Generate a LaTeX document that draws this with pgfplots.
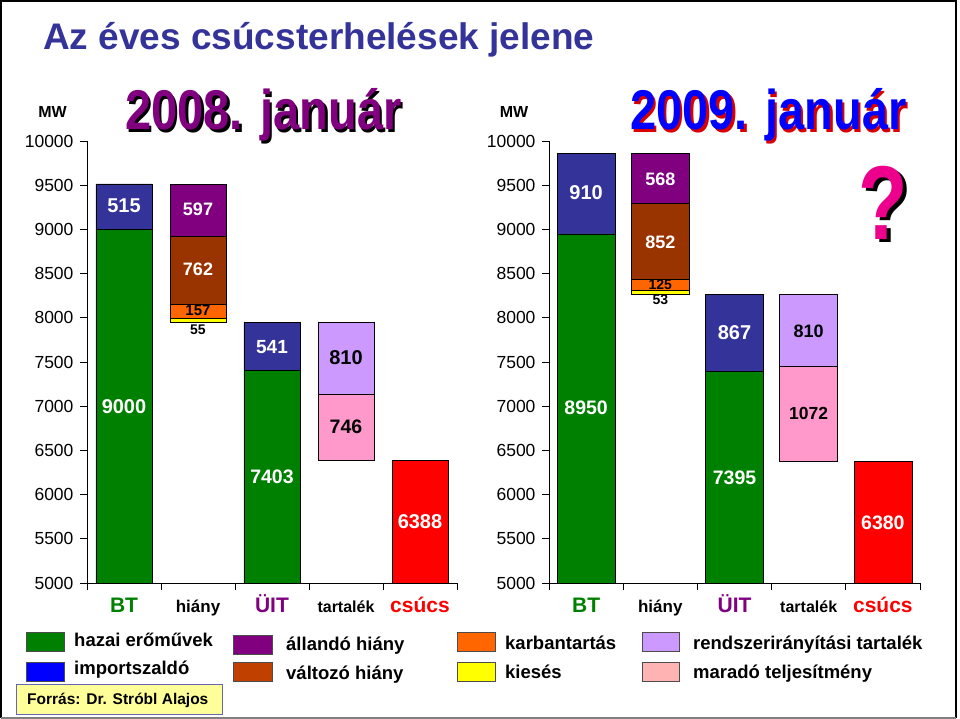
\documentclass[border=0pt]{standalone}
\usepackage{fontspec}
\setmainfont{Liberation Sans}
\usepackage{pgfplots}
\usepackage{pgfplotstable}
\pgfplotsset{compat=1.18}

\definecolor{cgreen}{HTML}{008000}
\definecolor{cblue}{HTML}{333399}
\definecolor{cpurple}{HTML}{800080}
\definecolor{cbrown}{HTML}{993300}
\definecolor{corange}{HTML}{FF6600}
\definecolor{cyellow}{HTML}{FFFF00}
\definecolor{clav}{HTML}{CC99FF}
\definecolor{cpink}{HTML}{FF99CC}
\definecolor{cred}{HTML}{FF0000}
\definecolor{lblue}{HTML}{0000FF}
\definecolor{lbrown}{HTML}{C04000}
\definecolor{lpink}{HTML}{FFB3B3}
\definecolor{ctitle}{HTML}{333399}
\definecolor{cnote}{HTML}{FFFF99}

\newcommand{\fs}[1]{\fontsize{#1}{#1}\selectfont}
% text with a drop shadow: {shadow colour}{text colour}{dx}{dy}{text}
\newcommand{\shadowed}[5]{%
  \makebox[0pt][l]{\hspace{#3}\raisebox{-#4}{\color{#1}#5}}{\color{#2}#5}}

% 2008. január -- stacked segments, bottom to top (base is invisible)
\pgfplotstableread{
x base green red  yellow orange brown pink lav blue purple
0 0    9000  0    0      0      0     0    0   515  0
1 7944 0     0    55     157    762   0    0   0    597
2 0    7403  0    0      0      0     0    0   541  0
3 6388 0     0    0      0      0     746  810 0    0
4 0    0     6388 0      0      0     0    0   0    0
}\tabA

% 2009. január
\pgfplotstableread{
x base green red  yellow orange brown pink lav blue purple
0 0    8950  0    0      0      0     0    0   910  0
1 8262 0     0    53     125    852   0    0   0    568
2 0    7395  0    0      0      0     0    0   867  0
3 6380 0     0    0      0      0     1072 810 0    0
4 0    0     6380 0      0      0     0    0   0    0
}\tabB

\newcommand{\bars}[1]{%
  \addplot[draw=none, fill=none] table[x=x, y=base] {#1};
  \addplot[fill=cgreen] table[x=x, y=green] {#1};
  \addplot[fill=cred] table[x=x, y=red] {#1};
  \addplot[fill=cyellow] table[x=x, y=yellow] {#1};
  \addplot[fill=corange] table[x=x, y=orange] {#1};
  \addplot[fill=cbrown] table[x=x, y=brown] {#1};
  \addplot[fill=cpink] table[x=x, y=pink] {#1};
  \addplot[fill=clav] table[x=x, y=lav] {#1};
  \addplot[fill=cblue] table[x=x, y=blue] {#1};
  \addplot[fill=cpurple] table[x=x, y=purple] {#1};
}

\tikzset{lab/.style={font=\bfseries\fs{#1}, inner sep=0pt}}

\pgfplotsset{
  panel/.style={
    scale only axis, height=442pt,
    xmin=-0.5, xmax=4.5, ymin=5000, ymax=10000, enlargelimits=false,
    ybar stacked,
    axis x line*=bottom, axis y line*=left,
    axis line style={-, line width=0.8pt, black},
    tick align=outside, major tick length=7pt,
    tick style={black, line width=0.8pt},
    ytick={5000,5500,...,10000},
    xtick={-0.5,0.5,1.5,2.5,3.5,4.5},
    x tick label as interval,
    xticklabels={{\color{cgreen}\bfseries\fs{21}BT},
                 {\bfseries\fs{17}hiány},
                 {\color{cpurple}\bfseries\fs{21}ÜIT},
                 {\bfseries\fs{16}tartalék},
                 {\color{cred}\bfseries\fs{21}csúcs}},
    tick label style={font=\fs{17.5}},
    /pgf/number format/assume math mode=true,
    /pgf/number format/1000 sep={},
    scaled y ticks=false,
    yticklabel style={xshift=-3pt},
    xticklabel style={anchor=base, yshift=-23pt},
    every axis plot/.append style={draw=black, line width=0.6pt},
  },
}

\begin{document}
\begin{tikzpicture}[x=1pt, y=1pt]
\useasboundingbox (0,0) rectangle (960,719);
\fill[white] (0,0) rectangle (960,719);
\draw[black, line width=1.5pt] (1,1) -- (1,718) -- (956,718) -- (956,1);
\draw[gray, line width=1.5pt] (1,1) -- (956,1);

\node[anchor=base west, inner sep=0pt, text=ctitle, font=\bfseries\fs{37}]
  at (43,669) {Az éves csúcsterhelések jelene};

% left panel
\begin{axis}[panel, at={(87pt,136pt)}, anchor=south west, width=370pt, bar width=0.757]
  \bars{\tabA}
  \coordinate (a1) at (axis cs:0,9265);
  \coordinate (a2) at (axis cs:0,6993);
  \coordinate (a3) at (axis cs:1,9231);
  \coordinate (a4) at (axis cs:1,8552);
  \coordinate (a5) at (axis cs:1,8080);
  \coordinate (a6) at (axis cs:1,7870);
  \coordinate (a7) at (axis cs:2,7670);
  \coordinate (a8) at (axis cs:2,6199);
  \coordinate (a9) at (axis cs:3,7545);
  \coordinate (a10) at (axis cs:3,6765);
  \coordinate (a11) at (axis cs:4,5690);
\end{axis}

% right panel
\begin{axis}[panel, at={(549pt,136pt)}, anchor=south west, width=371pt, bar width=0.78]
  \bars{\tabB}
  \coordinate (b1) at (axis cs:0,9412);
  \coordinate (b2) at (axis cs:0,6980);
  \coordinate (b3) at (axis cs:1,9570);
  \coordinate (b4) at (axis cs:1,8857);
  \coordinate (b5) at (axis cs:1,8375);
  \coordinate (b6) at (axis cs:1,8200);
  \coordinate (b7) at (axis cs:2,7828);
  \coordinate (b8) at (axis cs:2,6187);
  \coordinate (b9) at (axis cs:3,7851);
  \coordinate (b10) at (axis cs:3,6923);
  \coordinate (b11) at (axis cs:4,5678);
\end{axis}

% value labels, drawn on top of the bars
\node[lab=20, text=white] at (a1) {515};
\node[lab=20, text=white] at (a2) {9000};
\node[lab=18, text=white] at (a3) {597};
\node[lab=18, text=white] at (a4) {762};
\node[lab=15] at (a5) {157};
\node[lab=14] at (a6) {55};
\node[lab=19, text=white] at (a7) {541};
\node[lab=19.5, text=white] at (a8) {7403};
\node[lab=20] at (a9) {810};
\node[lab=19.5] at (a10) {746};
\node[lab=20, text=white] at (a11) {6388};

\node[lab=20, text=white] at (b1) {910};
\node[lab=19.5, text=white] at (b2) {8950};
\node[lab=18, text=white] at (b3) {568};
\node[lab=18, text=white] at (b4) {852};
\node[lab=14] at (b5) {125};
\node[lab=14] at (b6) {53};
\node[lab=20, text=white] at (b7) {867};
\node[lab=19.5, text=white] at (b8) {7395};
\node[lab=18] at (b9) {810};
\node[lab=17.5] at (b10) {1072};
\node[lab=19.5, text=white] at (b11) {6380};

% unit labels
\node[font=\bfseries\fs{16}, anchor=base] at (52.5,601) {MW};
\node[font=\bfseries\fs{16}, anchor=base] at (514,601) {MW};

% panel headings with shadow
\node[anchor=base west, inner sep=0pt] at (125,589)
  {\scalebox{0.84}[1]{\bfseries\fs{56}\shadowed{black}{cpurple}{3pt}{3pt}{2008. január}}};
\node[anchor=base west, inner sep=0pt] at (630,589)
  {\scalebox{0.84}[1]{\bfseries\fs{56}\shadowed{red!85!black}{lblue}{3pt}{3pt}{2009. január}}};
\node[anchor=base west, inner sep=0pt] at (858,479)
  {\scalebox{0.77}[1]{\bfseries\fs{105}\shadowed{black}{magenta}{5pt}{3pt}{?}}};

% legend
\begin{scope}[every node/.style={anchor=base west, inner sep=0pt, font=\bfseries\fs{18.5}}]
  \filldraw[fill=cgreen, draw=black!70] (26,68) rectangle (64,87);
  \node at (74,72) {hazai erőművek};
  \filldraw[fill=lblue, draw=black!70] (26,38) rectangle (64,57);
  \node at (74,44) {importszaldó};
  \filldraw[fill=cpurple, draw=black!70] (233,65) rectangle (272,84);
  \node at (286,68) {állandó hiány};
  \filldraw[fill=lbrown, draw=black!70] (233,38) rectangle (272,57);
  \node at (286,39) {változó hiány};
  \filldraw[fill=corange, draw=black!70] (457,68) rectangle (495,87);
  \node at (505,69) {karbantartás};
  \filldraw[fill=cyellow, draw=black!70] (457,38) rectangle (495,57);
  \node at (505,40) {kiesés};
  \filldraw[fill=clav, draw=black!70] (642,68) rectangle (679,87);
  \node at (693,69) {rendszerirányítási tartalék};
  \filldraw[fill=lpink, draw=black!70] (642,38) rectangle (679,57);
  \node at (693,40) {maradó teljesítmény};
\end{scope}

% source note
\filldraw[fill=cnote, draw=black!50!blue!60, line width=0.8pt] (16,5) rectangle (222,35);
\node[anchor=base west, inner sep=0pt, font=\bfseries\fs{15.5}] at (27,14) {Forrás: Dr. Stróbl Alajos};
\end{tikzpicture}
\end{document}
